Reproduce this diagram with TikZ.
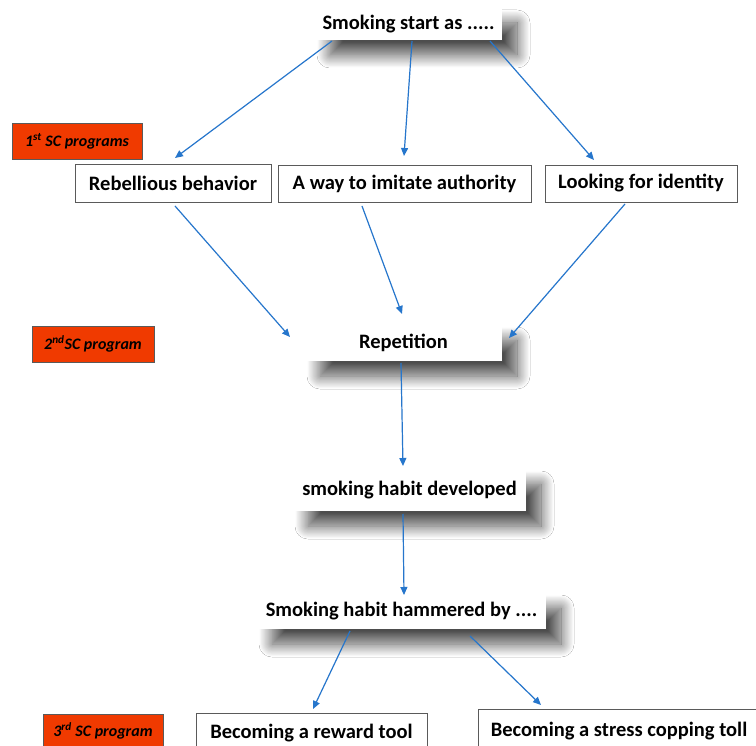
\documentclass[tikz,border=0pt]{standalone}
\usepackage{fontspec}
\setmainfont{Carlito}
\usetikzlibrary{shadows.blur,arrows.meta}
\definecolor{arrowblue}{RGB}{38,118,204}
\definecolor{scred}{RGB}{240,58,0}
\definecolor{boxline}{RGB}{90,90,90}
\tikzset{
  shadowbox/.style={fill=white, inner sep=0pt, font=\fontsize{20.5}{24}\selectfont\bfseries,
    blur shadow={shadow xshift=15pt, shadow yshift=-15pt, shadow blur radius=13pt, shadow blur steps=30, shadow opacity=70}},
  plainbox/.style={draw=boxline, line width=0.8pt, fill=white, inner sep=0pt, font=\fontsize{20.5}{24}\selectfont\bfseries},
  redbox/.style={draw=boxline, line width=0.8pt, fill=scred, inner sep=0pt, font=\fontsize{16}{18}\selectfont\bfseries\itshape},
  conn/.style={draw=arrowblue, line width=1.2pt, -{Triangle[length=8pt,width=7pt]}}
}
\begin{document}
\begin{tikzpicture}[x=1pt,y=-1pt]
\useasboundingbox (0,0) rectangle (756,746);
\clip (0,0) rectangle (756,746);
\fill[white] (0,0) rectangle (756,746);
% shadowed boxes
\node[shadowbox, minimum width=187pt, minimum height=32pt] (top) at (408.5,24) {Smoking start as .....};
\node[shadowbox, minimum width=197pt, minimum height=36pt] (rep) at (403.5,343) {Repetition};
\node[shadowbox, minimum width=233pt, minimum height=42pt] (dev) at (409.5,490) {smoking habit developed};
\node[shadowbox, minimum width=289pt, minimum height=36pt] (ham) at (401.5,611) {Smoking habit hammered by ....};
% plain boxes
\node[plainbox, minimum width=196pt, minimum height=38pt] (reb) at (173,183) {Rebellious behavior};
\node[plainbox, minimum width=253pt, minimum height=37pt] (imi) at (404.5,183.5) {A way to imitate authority};
\node[plainbox, minimum width=192pt, minimum height=37pt] (ide) at (641,183.5) {Looking for identity};
\node[plainbox, minimum width=231pt, minimum height=40pt] (rew) at (311.5,733) {Becoming a reward tool};
\node[plainbox, minimum width=282pt, minimum height=44pt] (str) at (619,731) {Becoming a stress copping toll};
% red labels
\node[redbox, minimum width=130pt, minimum height=36pt] (sc1) at (77,141) {1\textsuperscript{st} SC programs};
\node[redbox, minimum width=122pt, minimum height=36pt] (sc2) at (93,344) {2\textsuperscript{nd}SC program};
\node[redbox, minimum width=120pt, minimum height=34pt] (sc3) at (103,731) {3\textsuperscript{rd} SC program};
% connector end points
\coordinate (t1) at (332,41);
\coordinate (t2) at (412,41);
\coordinate (t3) at (490,41);
\coordinate (r1) at (175,158);
\coordinate (i1) at (404,156);
\coordinate (d1) at (594,160);
\coordinate (r2) at (175,206);
\coordinate (i2) at (362,206);
\coordinate (d2) at (625,204);
\coordinate (p1) at (290,337);
\coordinate (p2) at (402,314);
\coordinate (p3) at (509,338);
\coordinate (p4) at (401,363);
\coordinate (v1) at (403,466);
\coordinate (v2) at (403,514);
\coordinate (h1) at (404,595);
\coordinate (h2) at (350,631);
\coordinate (h3) at (470,636);
\coordinate (w1) at (313,709);
\coordinate (s1) at (541,705);
\draw[conn] (t1) -- (r1);
\draw[conn] (t2) -- (i1);
\draw[conn] (t3) -- (d1);
\draw[conn] (r2) -- (p1);
\draw[conn] (i2) -- (p2);
\draw[conn] (d2) -- (p3);
\draw[conn] (p4) -- (v1);
\draw[conn] (v2) -- (h1);
\draw[conn] (h2) -- (w1);
\draw[conn] (h3) -- (s1);
\end{tikzpicture}
\end{document}
